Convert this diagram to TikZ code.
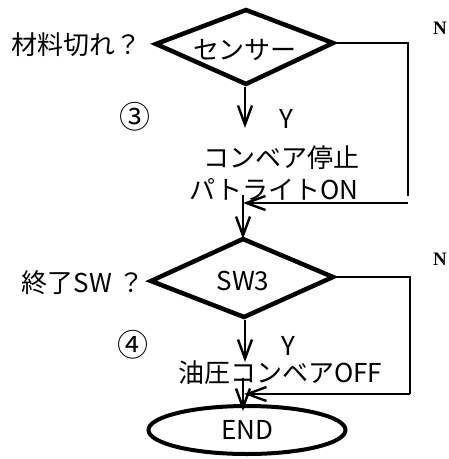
\documentclass[tikz,border=0pt]{standalone}
\usepackage{fontspec}
\setmainfont{Noto Sans CJK JP}
\newfontfamily\nfont{Liberation Serif}
\usetikzlibrary{shapes.geometric,arrows.meta}
\begin{document}
\begin{tikzpicture}[x=1pt,y=-1pt,
  txt/.style={inner sep=0pt,font=\fontsize{26}{30}\selectfont},
  circ/.style={inner sep=0pt,font=\fontsize{31}{34}\selectfont},
  decline/.style={line width=4.5pt,line join=miter},
  nlab/.style={inner sep=0pt,font=\fontsize{19}{22}\selectfont\nfont\bfseries},
  conn/.style={line width=2.4pt},
  arr/.style={conn,-{Straight Barb[length=19pt,width=14pt]}}]
\useasboundingbox (0,0) rectangle (449,459);
% first decision
\coordinate (d1n) at (246,10);
\coordinate (d1e) at (333,43);
\coordinate (d1s) at (246,84);
\coordinate (d1w) at (156,44);
\draw[decline] (d1n) -- (d1e) -- (d1s) -- (d1w) -- cycle;
\node[txt] (d1) at (245,50) {センサー};
\node[txt] (l1) at (77,45) {材料切れ？};
\node[nlab] (n1) at (440,28) {N};
\coordinate (d1b) at (245,87);
\coordinate (a1) at (245,128);
\draw[arr] (d1b) -- (a1);
\node[txt] (y1) at (286,119) {Y};
\node[circ] (c3) at (135,117) {③};
\node[txt] (t1) at (282,158) {コンベア停止};
\node[txt] (t2) at (274,189) {パトライトON};
\coordinate (r1) at (408,196);
\coordinate (r1b) at (408,203);
\coordinate (j1b) at (243,203);
\draw[conn] (d1e) -| (r1);
\draw[arr] (r1b) -- (j1b);
\coordinate (j1) at (243,195);
% second decision
\coordinate (d2n) at (243,239);
\coordinate (d2e) at (333,277);
\coordinate (d2s) at (244,317);
\coordinate (d2w) at (151,281);
\draw[decline] (d2n) -- (d2e) -- (d2s) -- (d2w) -- cycle;
\node[txt] (d2) at (243,281) {SW3};
\draw[arr] (j1) -- (d2n);
\node[txt] (l2) at (83,283) {終了SW ？};
\node[nlab] (n2) at (440,259) {N};
\coordinate (d2b) at (245,320);
\coordinate (a2) at (245,362);
\draw[arr] (d2b) -- (a2);
\node[txt] (y2) at (288,346) {Y};
\node[circ] (c4) at (133,345) {④};
\node[txt] (t3) at (280,373) {油圧コンベアOFF};
% end
\node[draw,ellipse,line width=4pt,inner sep=0pt,minimum width=197pt,minimum height=48pt,font=\fontsize{26}{30}\selectfont] (e) at (247,430) {END};
\coordinate (j2) at (243,378);
\draw[arr] (j2) -- (243,411);
\coordinate (r2) at (410,394);
\coordinate (j2b) at (244,394);
\draw[conn] (d2e) -| (r2);
\draw[arr] (r2) -- (j2b);
\end{tikzpicture}
\end{document}
